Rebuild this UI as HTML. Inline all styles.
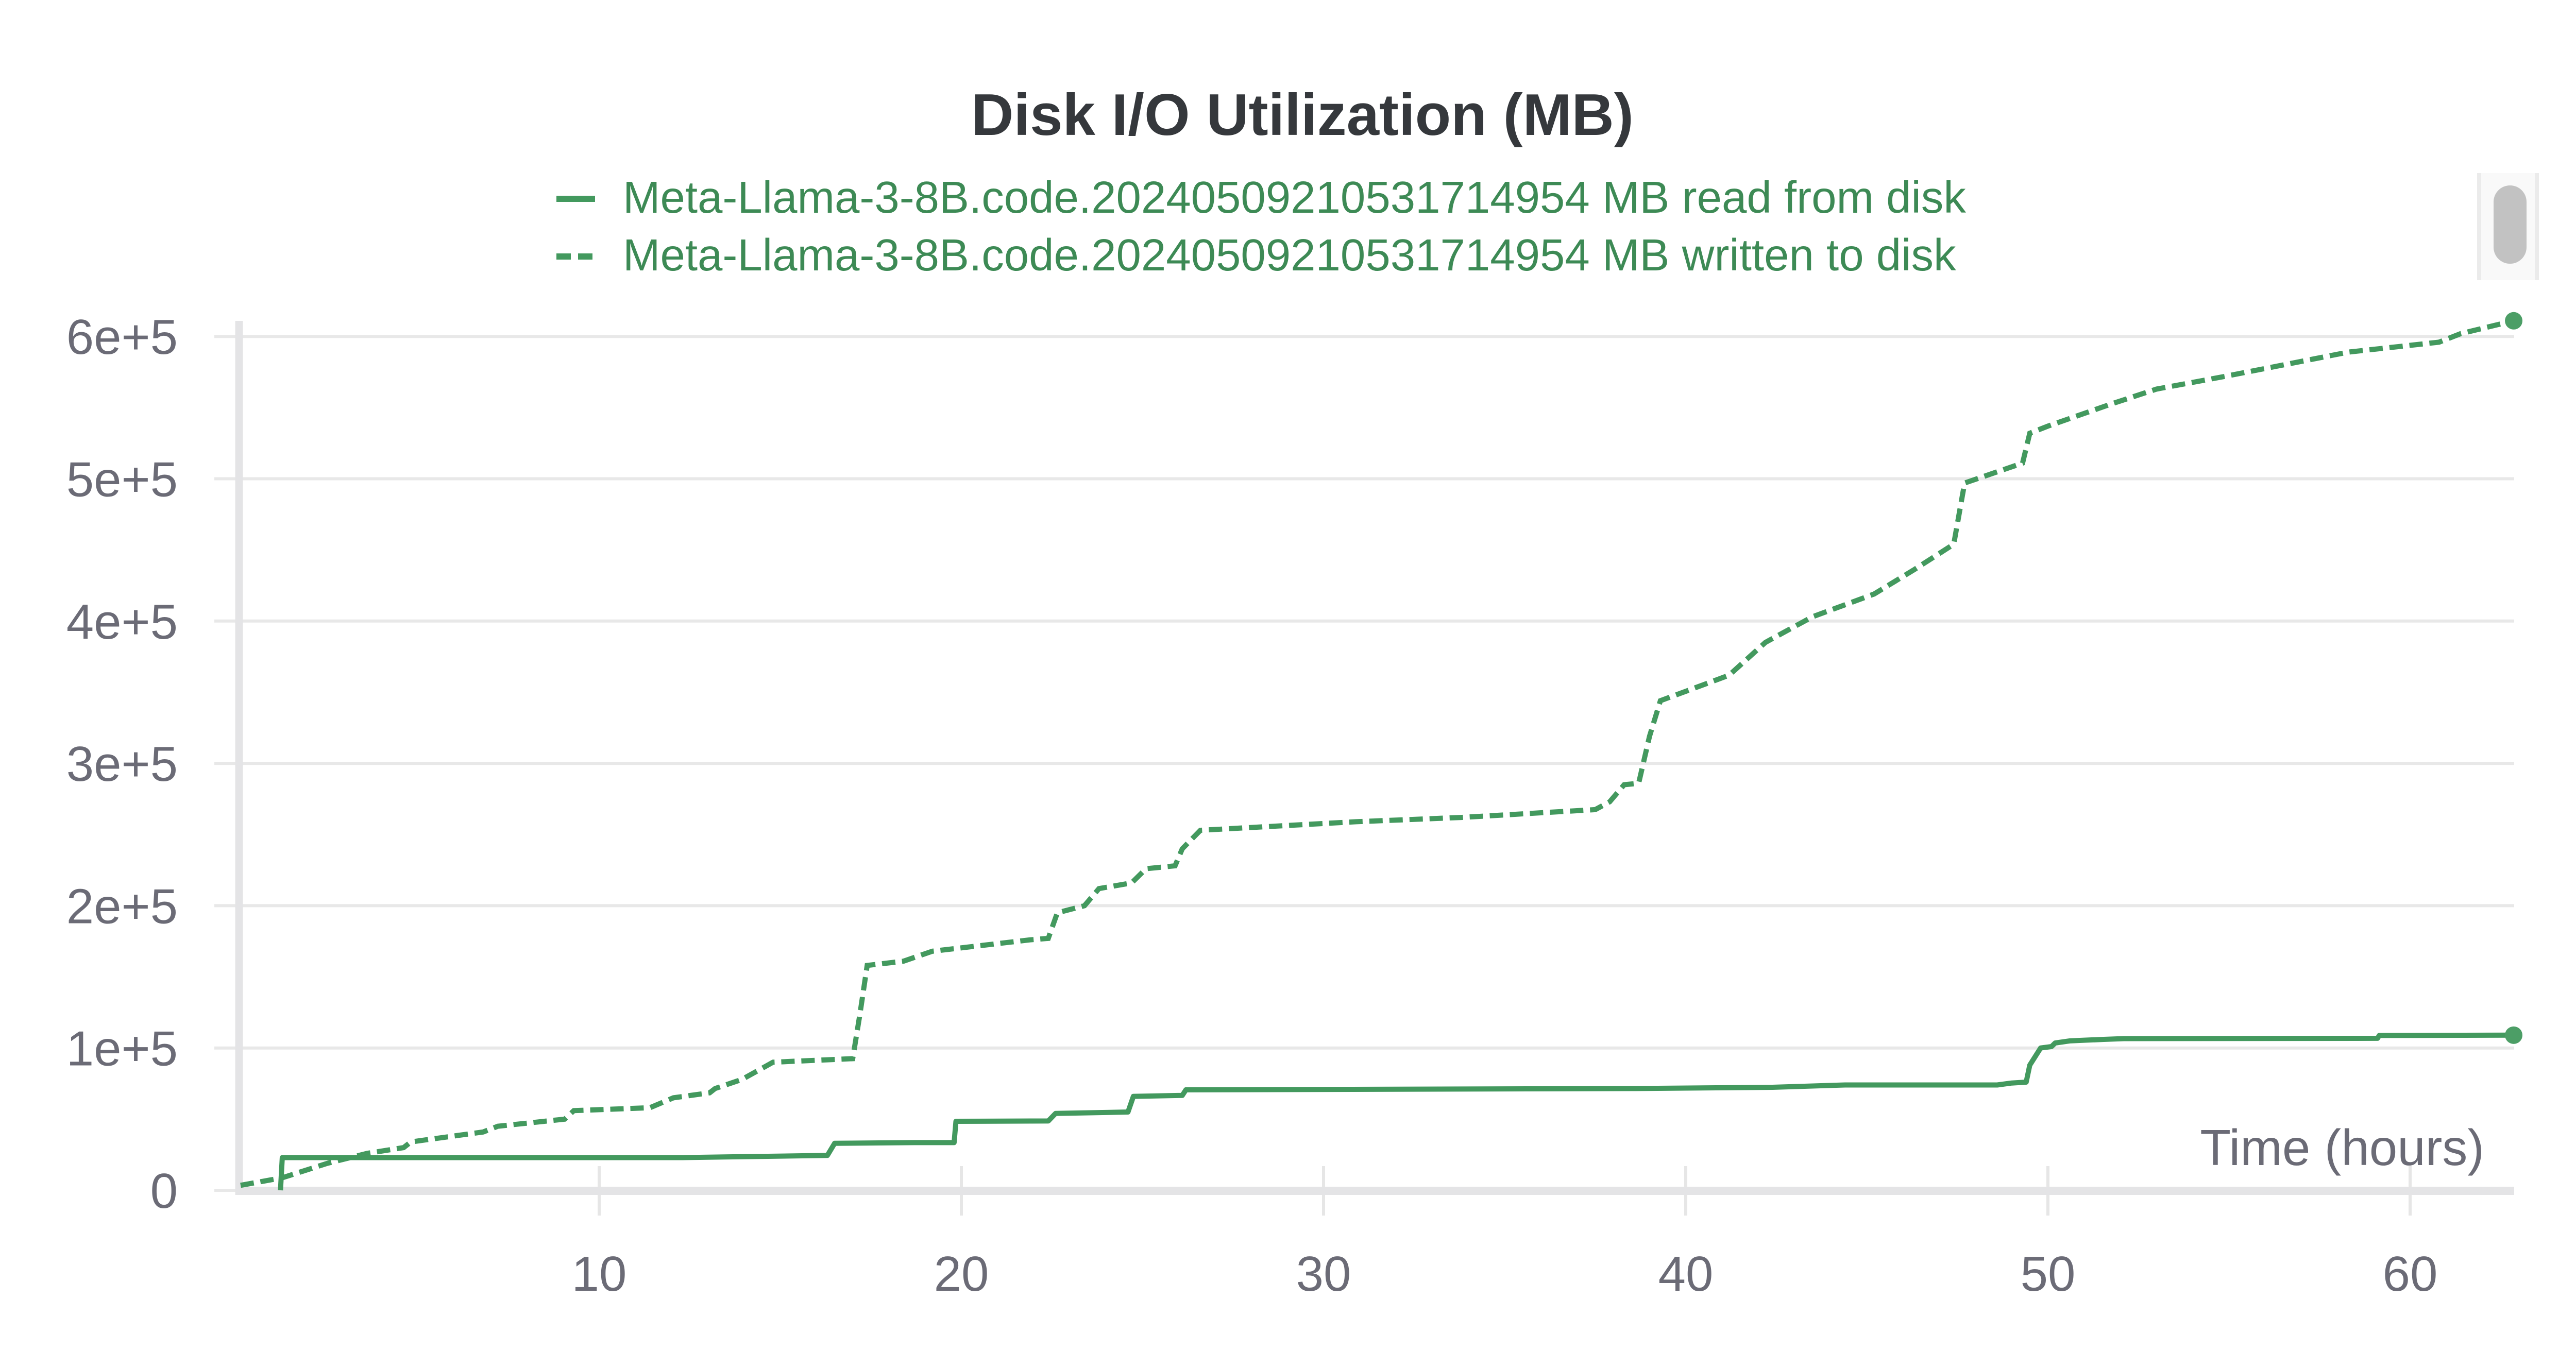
<!DOCTYPE html>
<html><head><meta charset="utf-8"><style>
html,body{margin:0;padding:0;background:#fff;}
svg{display:block;font-family:"Liberation Sans",sans-serif;}
</style></head><body>
<svg id="chart" width="5056" height="2656" viewBox="0 0 5056 2656" xmlns="http://www.w3.org/2000/svg">
<text x="2528" y="262" text-anchor="middle" font-size="114" font-weight="bold" fill="#35383c">Disk I/O Utilization (MB)</text>
<g>
<g>
<line x1="1080" y1="386" x2="1155" y2="386" stroke="#43995e" stroke-width="12"/>
<text x="1209" y="413" font-size="87" fill="#3d8a55">Meta-Llama-3-8B.code.20240509210531714954 MB read from disk</text>
</g>
<g>
<line x1="1080" y1="498" x2="1155" y2="498" stroke="#43995e" stroke-width="12" stroke-dasharray="28 14"/>
<text x="1209" y="525" font-size="87" fill="#3d8a55">Meta-Llama-3-8B.code.20240509210531714954 MB written to disk</text>
</g>
</g>
<g>
<rect x="4808" y="336" width="120" height="208" fill="#f9f9f9"/>
<rect x="4808" y="336" width="8" height="208" fill="#ebebeb"/>
<rect x="4920" y="336" width="8" height="208" fill="#ebebeb"/>
<rect x="4840" y="360" width="64" height="152" rx="32" fill="#c2c2c2"/>
</g>
<g id="grid"></g>
<g id="axes"></g>
<g id="series"></g>
<text x="4822" y="2262" text-anchor="end" font-size="98" fill="#6b6b76">Time (hours)</text>
</svg>
<script>
const yTicks=[0,100000,200000,300000,400000,500000,600000];
const yTickLabels=["0","1e+5","2e+5","3e+5","4e+5","5e+5","6e+5"];
const xTicks=[10,20,30,40,50,60];
const xTickLabels=["10","20","30","40","50","60"];
const readT=[1.2,1.25,12.3,16.3,16.5,18.7,19.8,19.85,22.4,22.6,24.6,24.75,26.1,26.2,38.5,42.4,44.4,48.6,49.0,49.4,49.5,49.8,50.1,50.2,50.6,51.5,52.1,59.1,59.15,62.86];
const readV=[0,23000,23000,24500,33000,33500,33500,48500,48700,54000,55000,66000,66700,70600,71500,72400,74000,74000,75400,76000,88000,100000,101000,103500,105000,106000,106600,106800,108800,109000];
const writeT=[0.1,1.25,2.5,3.6,4.6,4.8,6.8,7.2,9.05,9.3,11.4,12.05,13.05,13.2,13.95,14.8,17.0,17.2,17.4,18.4,19.2,21.9,22.4,22.65,23.4,23.8,24.7,25.1,25.9,26.1,26.6,30.9,33.8,37.5,37.9,38.3,38.7,39.0,39.3,41.2,42.2,43.5,45.2,46.3,47.4,47.7,49.3,49.5,50.0,51.8,53.0,54.9,56.5,58.3,60.8,61.4,62.86];
const writeV=[3500,8800,19000,26000,30000,34000,41000,45000,50000,56000,58000,65000,68500,71500,78000,90000,92500,124000,158000,161000,168000,176000,177000,195000,200000,212000,216000,226000,228000,240000,253000,259000,262000,267500,273000,285000,286000,319000,344000,362000,385000,403000,419000,436000,454000,497000,511000,532000,537000,553000,563000,572000,580000,589000,596000,602000,611000];
const NS="http://www.w3.org/2000/svg";
function xs(t){return 460+70.3*t;}
function ys(v){return 2311-v/100000*276.3;}
function mk(tag,attrs,parent){const e=document.createElementNS(NS,tag);for(const k in attrs)e.setAttribute(k,attrs[k]);parent.appendChild(e);return e;}
const grid=document.getElementById('grid'),axes=document.getElementById('axes'),series=document.getElementById('series');
yTicks.forEach((v,i)=>{
  const l=mk('line',{x1:416,x2:4880,y1:ys(v),y2:ys(v),stroke:'#e8e8e8','stroke-width':6},grid);
  
  
  const tx=mk('text',{x:345,y:ys(v)+34,'text-anchor':'end','font-size':96,fill:'#6b6b76'},axes);
  tx.textContent=yTickLabels[i];
  
  
});
xTicks.forEach((t,i)=>{
  const l=mk('line',{x1:xs(t),x2:xs(t),y1:2264,y2:2360,stroke:'#e6e6e6','stroke-width':6},grid);
  
  
  const tx=mk('text',{x:xs(t),y:2506,'text-anchor':'middle','font-size':96,fill:'#6b6b76'},axes);
  tx.textContent=xTickLabels[i];
  
  
});
const ya=mk('line',{x1:464,x2:464,y1:623,y2:2320,stroke:'#e4e4e6','stroke-width':15},axes);


const xa=mk('line',{x1:457,x2:4880,y1:2312,y2:2312,stroke:'#e4e4e6','stroke-width':16},axes);


function pts(T,V){return T.map((t,i)=>xs(t).toFixed(1)+','+ys(V[i]).toFixed(1)).join(' ');}
const pr=mk('polyline',{points:pts(readT,readV),fill:'none',stroke:'#43995e','stroke-width':10,'stroke-linejoin':'round'},series);


const pw=mk('polyline',{points:pts(writeT,writeV),fill:'none',stroke:'#43995e','stroke-width':10,'stroke-dasharray':'26 13'},series);


const d1=mk('circle',{cx:xs(readT[readT.length-1]),cy:ys(readV[readV.length-1]),r:17,fill:'#4c9e66'},series);


const d2=mk('circle',{cx:xs(writeT[writeT.length-1]),cy:ys(writeV[writeV.length-1]),r:17,fill:'#4c9e66'},series);


</script>
</body></html>
